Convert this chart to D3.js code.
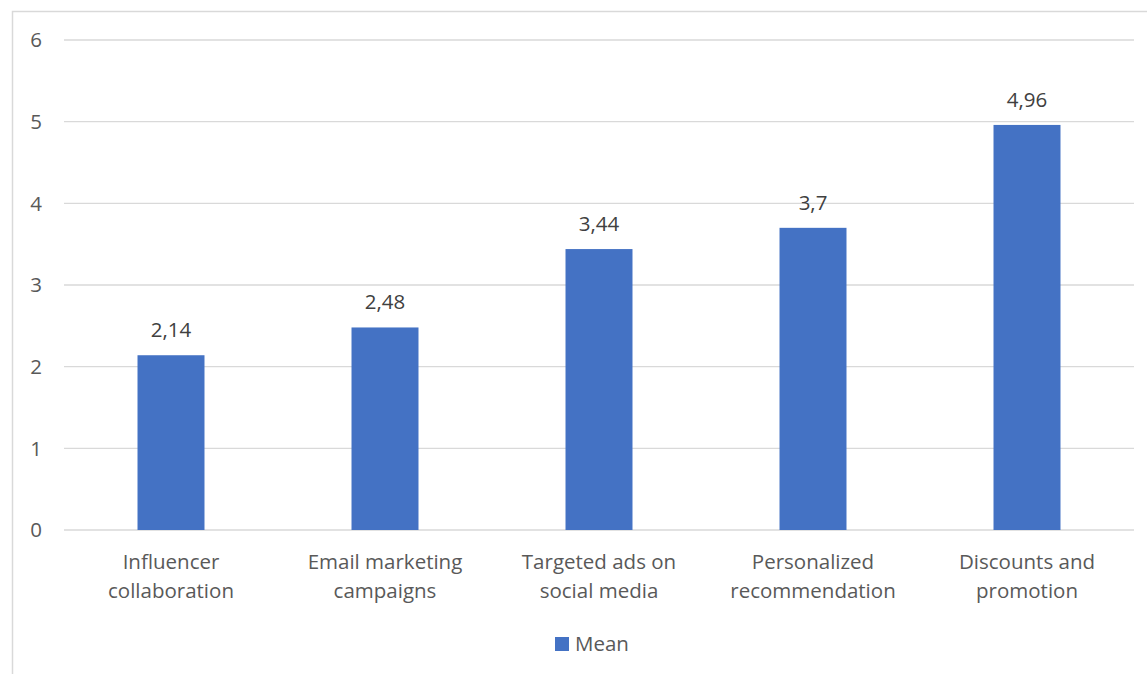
<!DOCTYPE html>
<html><head><meta charset="utf-8">
<script src="https://cdn.jsdelivr.net/npm/d3@7/dist/d3.min.js"></script>
<style>body{margin:0;background:#fff;} svg{display:block;font-family:"Open Sans",sans-serif;}</style>
</head><body>
<svg id="c" width="1147" height="674"></svg>
<script>
const categories = [["Influencer","collaboration"],["Email marketing","campaigns"],["Targeted ads on","social media"],["Personalized","recommendation"],["Discounts and","promotion"]];
const values = [2.14, 2.48, 3.44, 3.7, 4.96];
const valueLabels = ["2,14","2,48","3,44","3,7","4,96"];
const yTicks = [0,1,2,3,4,5,6];
const seriesName = "Mean";

const svg = d3.select("#c");
const color = "#4472C4", textColor = "#595959";
const fs = 20.5;
svg.append("rect").attr("x",12.5).attr("y",11.5).attr("width",1160).attr("height",700)
  .attr("fill","none").attr("stroke","#d9d9d9").attr("stroke-width",1.5);

const x = d3.scaleBand().domain(d3.range(categories.length)).range([64,1134]).paddingInner(0.687).paddingOuter(0.3435);
const y = d3.scaleLinear().domain([0,6]).range([530,40]);

const g = svg.append("g");
g.selectAll("line.grid").data(yTicks).join("line").attr("class","grid")
  .attr("x1",64).attr("x2",1134).attr("y1",d=>y(d)).attr("y2",d=>y(d))
  .attr("stroke","#d9d9d9").attr("stroke-width",1.3);
g.selectAll("text.yt").data(yTicks).join("text").attr("class","yt")
  .attr("x",42).attr("y",d=>y(d)).attr("dy","0.35em").attr("text-anchor","end")
  .attr("fill",textColor).attr("font-size",fs).text(d=>d);

g.selectAll("rect.bar").data(values).join("rect").attr("class","bar")
  .attr("x",(d,i)=>x(i)).attr("width",x.bandwidth()).attr("y",d=>y(d)).attr("height",d=>y(0)-y(d))
  .attr("fill",color);
g.selectAll("text.vl").data(values).join("text").attr("class","vl")
  .attr("x",(d,i)=>x(i)+x.bandwidth()/2).attr("y",d=>y(d)-18).attr("text-anchor","middle")
  .attr("fill","#404040").attr("font-size",fs).text((d,i)=>valueLabels[i]);

const cl = g.selectAll("text.cl").data(categories).join("text").attr("class","cl")
  .attr("text-anchor","middle").attr("fill",textColor).attr("font-size",fs);
cl.selectAll("tspan").data((d,i)=>d.map(s=>({s,i}))).join("tspan")
  .attr("x",d=>x(d.i)+x.bandwidth()/2).attr("y",(d,j)=>569+j*29).text(d=>d.s);

svg.append("rect").attr("x",555).attr("y",637).attr("width",14).attr("height",14).attr("fill",color);
svg.append("text").attr("x",575).attr("y",651).attr("fill",textColor).attr("font-size",fs).text(seriesName);
</script>
</body></html>
